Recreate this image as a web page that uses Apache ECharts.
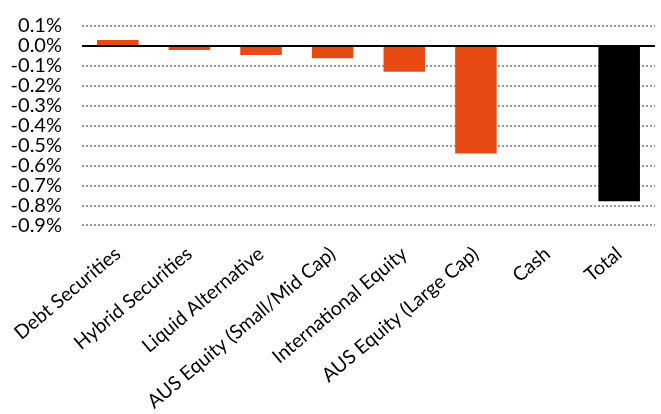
<!DOCTYPE html>
<html>
<head>
<meta charset="utf-8">
<script src="https://cdn.jsdelivr.net/npm/echarts@6/dist/echarts.min.js"></script>
<style>
html, body { margin: 0; padding: 0; background: #fff; }
#main { width: 661px; height: 414px; }
</style>
</head>
<body>
<div id="main"></div>
<script>
var chartDom = document.getElementById('main');
var myChart = echarts.init(chartDom);

// 类别
var categories = ['Debt Securities', 'Hybrid Securities', 'Liquid Alternative',
    'AUS Equity (Small/Mid Cap)', 'International Equity', 'AUS Equity (Large Cap)', 'Cash', 'Total'];
// 数值 (%)
var values = [0.03, -0.02, -0.045, -0.062, -0.13, -0.54, 0, -0.78];
// 颜色
var barColors = ['#E84A14', '#E84A14', '#E84A14', '#E84A14', '#E84A14', '#E84A14', '#E84A14', '#000000'];

var fontName = 'Lato';

var barData = [];
for (var i = 0; i < values.length; i++) {
    barData.push({ value: values[i], itemStyle: { color: barColors[i] } });
}

var option = {
    animation: false,
    grid: { left: 82, right: 6, top: 26, bottom: 186, containLabel: false },
    xAxis: {
        type: 'category',
        data: categories,
        axisLine: { show: false, onZero: false },
        axisTick: { show: false },
        axisLabel: {
            interval: 0,
            rotate: 40,
            margin: 26,
            color: '#000',
            fontFamily: fontName,
            fontSize: 19.5
        }
    },
    yAxis: {
        type: 'value',
        min: -0.9,
        max: 0.1,
        interval: 0.1,
        axisLine: { show: false },
        axisTick: { show: false },
        splitLine: { lineStyle: { color: '#9a9a9a', type: [2, 2], width: 2 } },
        axisLabel: {
            margin: 20,
            color: '#000',
            fontFamily: fontName,
            fontSize: 20,
            formatter: function (v) { return v.toFixed(1) + '%'; }
        }
    },
    series: [{
        type: 'bar',
        data: barData,
        barWidth: '58%',
        markLine: {
            silent: true,
            symbol: 'none',
            label: { show: false },
            lineStyle: { color: '#000', type: 'solid', width: 2 },
            data: [{ yAxis: 0 }]
        }
    }]
};
myChart.setOption(option);
</script>
</body>
</html>
